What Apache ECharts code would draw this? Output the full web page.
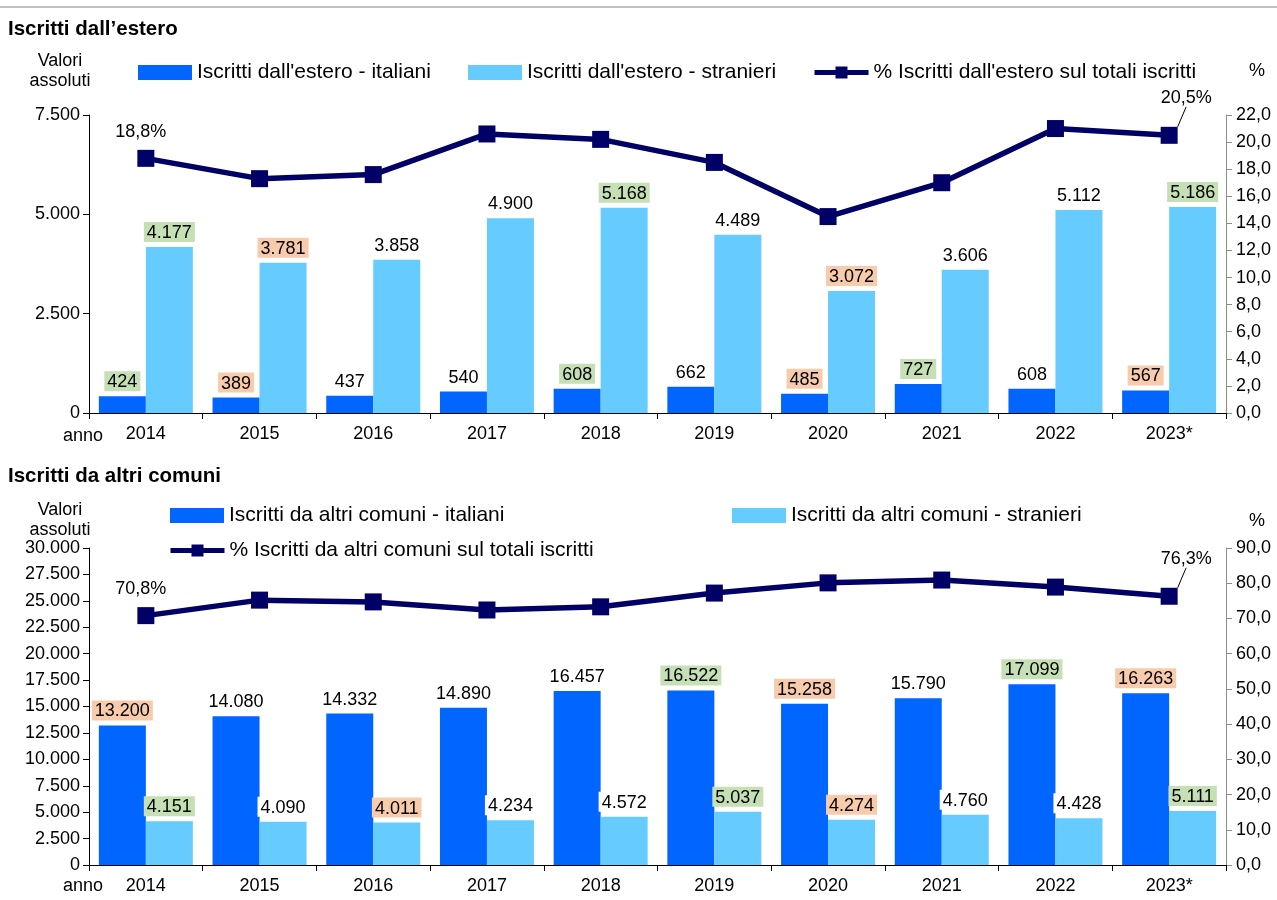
<!DOCTYPE html>
<html>
<head>
<meta charset="utf-8">
<script src="https://cdn.jsdelivr.net/npm/echarts@6/dist/echarts.min.js"></script>
<style>
  html, body { margin: 0; padding: 0; background: #fff; }
  #chart { width: 1277px; height: 900px; }
</style>
</head>
<body>
<div id="chart"></div>
<script>
// anni
const anni = ['2014', '2015', '2016', '2017', '2018', '2019', '2020', '2021', '2022', '2023*'];

// Iscritti dall'estero
const esteroItaliani = [424, 389, 437, 540, 608, 662, 485, 727, 608, 567];
const esteroStranieri = [4177, 3781, 3858, 4900, 5168, 4489, 3072, 3606, 5112, 5186];
const esteroPerc = [18.8, 17.3, 17.6, 20.6, 20.2, 18.5, 14.5, 17.0, 21.0, 20.5];

// Iscritti da altri comuni
const comuniItaliani = [13200, 14080, 14332, 14890, 16457, 16522, 15258, 15790, 17099, 16263];
const comuniStranieri = [4151, 4090, 4011, 4234, 4572, 5037, 4274, 4760, 4428, 5111];
const comuniPerc = [70.8, 75.2, 74.7, 72.4, 73.3, 77.2, 80.1, 80.9, 78.9, 76.3];

// evidenziazione etichette: v = verde, a = arancio, b = bianco, '' = nessuna
const evEsteroIt = ['v', 'a', '', '', 'v', '', 'a', 'v', '', 'a'];
const evEsteroStr = ['v', 'a', '', '', 'v', '', 'a', '', '', 'v'];
const evComuniIt = ['a', '', '', '', '', 'v', 'a', '', 'v', 'a'];
const evComuniStr = ['v', 'b', 'a', 'b', 'b', 'v', 'a', 'b', 'b', 'v'];

const FONT = 'Liberation Sans, Arial, sans-serif';
const COL_IT = '#0066ff';
const COL_STR = '#66ccff';
const COL_LINE = '#000066';

function fmtNum(v) {
    return String(v).replace(/\B(?=(\d{3})+(?!\d))/g, '.');
}
function fmtDec(v) {
    return Number(v).toFixed(1).replace('.', ',');
}

const bgColors = { v: '#c5e0b4', a: '#f8cbad', b: '#ffffff', '': 'transparent' };

function barData(values, ev) {
    return values.map((v, i) => ({
        value: v,
        label: { backgroundColor: bgColors[ev[i]] }
    }));
}

function lineData(values) {
    const last = values.length - 1;
    return values.map((v, i) => ({
        value: v,
        label: { show: i === 0 || i === last },
        labelLine: { show: i === last }
    }));
}

let myChart = echarts.init(document.getElementById('chart'));

const barLabel = {
    show: true,
    position: 'top',
    distance: 5,
    color: '#000',
    fontFamily: FONT,
    fontSize: 18,
    padding: [2, 3, 0, 3],
    formatter: p => fmtNum(p.value)
};

function xAxis(gridIndex) {
    return {
        type: 'category',
        gridIndex: gridIndex,
        data: anni,
        axisLine: { lineStyle: { color: '#000', width: 1 } },
        axisTick: { show: true, length: 6, lineStyle: { color: '#000' } },
        axisLabel: { color: '#000', fontFamily: FONT, fontSize: 18, margin: 12 }
    };
}

function yLeft(gridIndex, max, interval) {
    return {
        type: 'value',
        gridIndex: gridIndex,
        min: 0, max: max, interval: interval,
        axisLine: { show: true, lineStyle: { color: '#000' } },
        axisTick: { show: true, length: 6, lineStyle: { color: '#000' } },
        splitLine: { show: false },
        axisLabel: { color: '#000', fontFamily: FONT, fontSize: 18, margin: 9, formatter: fmtNum }
    };
}

function yRight(gridIndex, max, interval) {
    return {
        type: 'value',
        gridIndex: gridIndex,
        position: 'right',
        min: 0, max: max, interval: interval,
        axisLine: { show: true, lineStyle: { color: '#8c8c8c' } },
        axisTick: { show: true, length: 6, lineStyle: { color: '#8c8c8c' } },
        splitLine: { show: false },
        axisLabel: { color: '#000', fontFamily: FONT, fontSize: 18, margin: 10, formatter: fmtDec }
    };
}

function lineSeries(name, values, xi, yi) {
    const last = values.length - 1;
    return {
        name: name,
        type: 'line',
        xAxisIndex: xi,
        yAxisIndex: yi,
        data: lineData(values),
        symbol: 'rect',
        symbolSize: 17,
        lineStyle: { color: COL_LINE, width: 5.5 },
        itemStyle: { color: COL_LINE },
        z: 5,
        label: {
            show: false,
            position: 'top',
            distance: 9,
            color: '#000',
            fontFamily: FONT,
            fontSize: 18,
            formatter: p => fmtDec(p.value) + '%'
        },
        labelLine: { show: false, lineStyle: { color: '#000', width: 1 } },
        labelLayout: function (params) {
            if (params.dataIndex === last) {
                return { dx: 17, dy: -11 };
            }
            if (params.dataIndex === 0) {
                return { dx: -5 };
            }
            return {};
        }
    };
}

function barSeries(name, values, ev, color, xi, yi) {
    return {
        name: name,
        type: 'bar',
        xAxisIndex: xi,
        yAxisIndex: yi,
        data: barData(values, ev),
        barWidth: 47,
        barGap: '0%',
        itemStyle: { color: color },
        label: barLabel
    };
}

function legendItem(name, left, top, icon) {
    let lg = {
        left: left, top: top,
        itemWidth: 54, itemHeight: 15, itemGap: 5,
        textStyle: { color: '#000', fontFamily: FONT, fontSize: 21 },
        lineStyle: { width: 5 },
        data: [name]
    };
    if (icon) lg.icon = icon;
    return lg;
}

const textStyle = { fill: '#000', font: '18px ' + FONT, textAlign: 'center' };
const titleStyle = { fontFamily: FONT, fontSize: 20.5, fontWeight: 'bold', color: '#000' };

let option = {
    animation: false,
    textStyle: { fontFamily: FONT },
    title: [
        { text: 'Iscritti dall’estero', left: 3, top: 14, textStyle: titleStyle },
        { text: 'Iscritti da altri comuni', left: 3, top: 461, textStyle: titleStyle }
    ],
    legend: [
        legendItem("Iscritti dall'estero - italiani", 133, 57, 'rect'),
        legendItem("Iscritti dall'estero - stranieri", 463, 57, 'rect'),
        legendItem("% Iscritti dall'estero sul totali iscritti", 807, 57),
        legendItem('Iscritti da altri comuni - italiani', 165, 500, 'rect'),
        legendItem('Iscritti da altri comuni - stranieri', 727, 500, 'rect'),
        legendItem('% Iscritti da altri comuni sul totali iscritti', 163, 535)
    ],
    grid: [
        { left: 89, right: 51, top: 115, height: 298 },
        { left: 89, right: 51, top: 548, height: 317 }
    ],
    xAxis: [xAxis(0), xAxis(1)],
    yAxis: [
        yLeft(0, 7500, 2500),
        yRight(0, 22, 2),
        yLeft(1, 30000, 2500),
        yRight(1, 90, 10)
    ],
    series: [
        barSeries("Iscritti dall'estero - italiani", esteroItaliani, evEsteroIt, COL_IT, 0, 0),
        barSeries("Iscritti dall'estero - stranieri", esteroStranieri, evEsteroStr, COL_STR, 0, 0),
        lineSeries("% Iscritti dall'estero sul totali iscritti", esteroPerc, 0, 1),
        barSeries('Iscritti da altri comuni - italiani', comuniItaliani, evComuniIt, COL_IT, 1, 2),
        barSeries('Iscritti da altri comuni - stranieri', comuniStranieri, evComuniStr, COL_STR, 1, 2),
        lineSeries('% Iscritti da altri comuni sul totali iscritti', comuniPerc, 1, 3)
    ],
    graphic: [
        { type: 'rect', left: 0, top: 6, shape: { width: 1277, height: 2 }, style: { fill: '#c0c0c0' } },
        { type: 'text', x: 60, y: 51, style: Object.assign({ text: 'Valori\nassoluti', lineHeight: 20 }, textStyle) },
        { type: 'text', x: 1257, y: 62, style: Object.assign({ text: '%' }, textStyle) },
        { type: 'text', x: 83, y: 427, style: Object.assign({ text: 'anno' }, textStyle) },
        { type: 'text', x: 60, y: 500, style: Object.assign({ text: 'Valori\nassoluti', lineHeight: 20 }, textStyle) },
        { type: 'text', x: 1257, y: 512, style: Object.assign({ text: '%' }, textStyle) },
        { type: 'text', x: 83, y: 877, style: Object.assign({ text: 'anno' }, textStyle) }
    ]
};

myChart.setOption(option);

window.addEventListener('resize', () => {
    myChart.resize();
});
</script>
</body>
</html>
